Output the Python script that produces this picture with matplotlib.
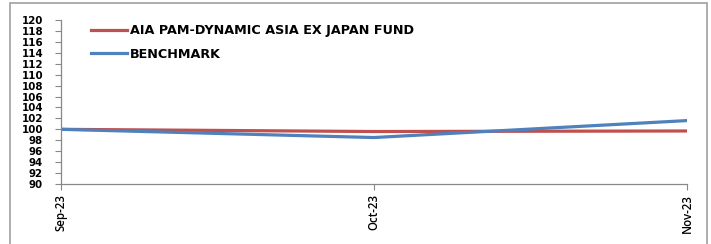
import matplotlib.pyplot as plt
from matplotlib.patches import Rectangle

# data
months = ['Sep-23', 'Oct-23', 'Nov-23']
fund = [100.0, 99.6, 99.7]
benchmark = [100.0, 98.5, 101.6]
fund_name = 'AIA PAM-DYNAMIC ASIA EX JAPAN FUND'
bench_name = 'BENCHMARK'

plt.rcParams['font.family'] = ['DejaVu Sans']

fig = plt.figure(figsize=(7.11, 2.44), dpi=100)
ax = fig.add_axes([61/711, 1 - 184/244, (687-61)/711, (184-20)/244])

# outer chart frame
fig.patches.append(Rectangle((10/711, -0.1), (707-10)/711, 1.1 - 3/244,
                             transform=fig.transFigure, fill=False,
                             edgecolor='#a0a0a0', linewidth=1.2))

x = range(len(months))
ax.plot(x, fund, color='#C0504D', lw=2.3, label=fund_name)
ax.plot(x, benchmark, color='#4F81BD', lw=2.3, label=bench_name)

ax.set_xlim(0, len(months) - 1)
ax.set_ylim(90, 120)
ax.set_yticks(range(90, 121, 2))
ax.set_xticks(list(x))
ax.set_xticklabels(months, rotation=90, fontsize=8.3, family='Open Sans',
                   fontweight='semibold')
for t in ax.get_yticklabels():
    t.set_fontweight('bold')
    t.set_fontsize(7.4)

for s in ['top', 'right']:
    ax.spines[s].set_visible(False)
for s in ['left', 'bottom']:
    ax.spines[s].set_color('#888888')
    ax.spines[s].set_linewidth(0.9)
ax.tick_params(axis='y', colors='#888888', labelcolor='black', length=4, width=0.8, pad=9)
ax.tick_params(axis='x', colors='#888888', labelcolor='black', length=4, width=0.8, pad=3)

leg = ax.legend(loc='upper left', bbox_to_anchor=(0.033, 1.03), frameon=False,
                handlelength=2.85, handletextpad=0.25, labelspacing=0.85,
                borderpad=0.2, prop={'weight': 'bold', 'size': 9.2})

fig.savefig('out.png', dpi=100)
